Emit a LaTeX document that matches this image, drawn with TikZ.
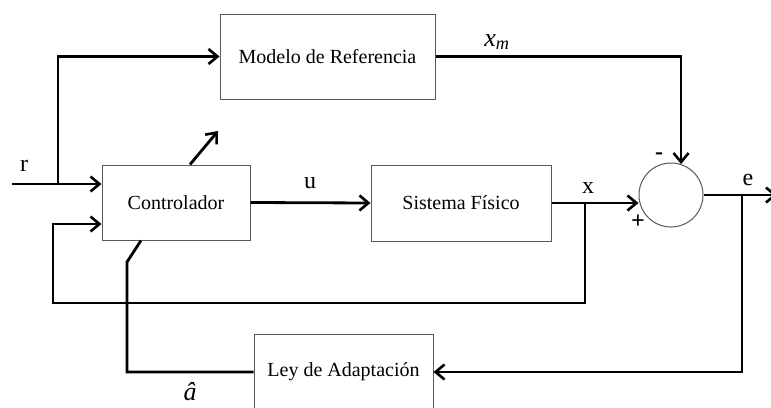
\documentclass[tikz,border=0pt]{standalone}
\usepackage{fontspec}
\setmainfont{Liberation Serif}
\usetikzlibrary{arrows.meta,calc}
\begin{document}
\begin{tikzpicture}[x=1pt,y=-1pt,
  blk/.style={draw=black!65,line width=1pt,rectangle,inner sep=0pt,font=\fontsize{20}{24}\selectfont},
  wire/.style={line width=2.8pt,line join=miter},
  arr/.style={wire,-{Straight Barb[length=9pt,width=15pt,line width=2.6pt]}},
  lbl/.style={font=\fontsize{24}{28}\selectfont,inner sep=0pt},
  mlbl/.style={font=\fontsize{26}{30}\selectfont\itshape,inner sep=0pt},
  sgn/.style={font=\fontsize{24}{28}\selectfont\bfseries,inner sep=0pt}]
\clip (0,0) rectangle (771,407);
\fill[white] (0,0) rectangle (771,407);
\node[blk,minimum width=215pt,minimum height=85pt] (mod) at (327.5,56.5) {Modelo de Referencia};
\node[blk,minimum width=148pt,minimum height=75pt] (ctrl) at (176,202.5) {Controlador};
\node[blk,minimum width=180pt,minimum height=76pt] (sis) at (461,203) {Sistema Físico};
\node[blk,minimum width=179pt,minimum height=76pt] (ley) at (343.5,372) {Ley de Adaptación};
\node[draw=black!65,line width=1pt,circle,minimum size=64pt,inner sep=0pt] (sum) at (671,195) {};
\coordinate (rin) at (12,184);
\coordinate (rb) at (58,184);
\coordinate (xb) at (585,202.5);
\coordinate (fb) at (53,303);
\coordinate (eb) at (742,195);
\coordinate (eout) at (777,195);
\coordinate (ab) at (127,262);
\coordinate (adj) at (218,131);
% r input
\draw[arr] (rin) -- (rin -| ctrl.west);
\draw[arr] (rb) |- (mod.west);
% u
\draw[arr] (ctrl.east) -- (sis.west);
% x
\draw[arr] (sis.east) -- (sis.east -| sum.west);
\draw[arr] (xb) |- (fb) |- ([yshift=-21.5pt]ctrl.west);
% xm
\draw[arr] (mod.east) -| (sum.72);
% e
\draw[arr] (sum.east) -- (eout);
\draw[arr] (eb) |- (ley.east);
% a hat
\draw[wire] (ley.west) -| (ab) -- ([xshift=-35pt]ctrl.south);
% adaptive arrow
\draw[arr] ([xshift=14pt]ctrl.north) -- (adj);
% labels
\node[lbl] (lr) at (24,166) {r};
\node[lbl] (lu) at (310,183) {u};
\node[lbl] (lx) at (588,188) {x};
\node[lbl] (le) at (748,180) {e};
\node[mlbl] (lxm) at (497,42) {x\textsubscript{m}};
\node[mlbl] (lah) at (190,392) {â};
\node[sgn] (lm) at (659,156) {-};
\node[sgn] (lp) at (638,222) {+};
\end{tikzpicture}
\end{document}
